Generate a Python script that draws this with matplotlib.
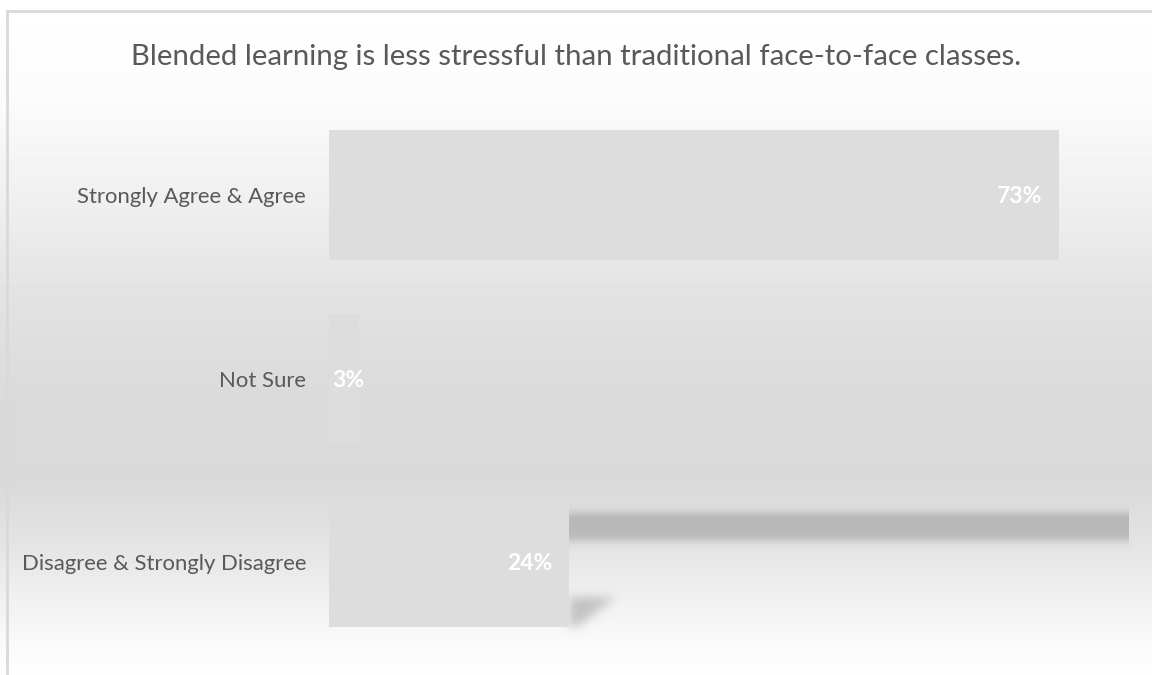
import numpy as np
import matplotlib
matplotlib.use("Agg")
import matplotlib.pyplot as plt
from matplotlib.patches import Rectangle

categories = ["Strongly Agree & Agree", "Not Sure", "Disagree & Strongly Disagree"]
shares = [0.73, 0.03, 0.24]
value_labels = ["73%", "3%", "24%"]
title = "Blended learning is less stressful than traditional face-to-face classes."

W, H, DPI = 1152, 675, 100
plt.rcParams['font.family'] = ['Lato', 'DejaVu Sans']

fig = plt.figure(figsize=(W / DPI, H / DPI), dpi=DPI)
fig.patch.set_facecolor('white')

# plot area
ax = fig.add_axes([329 / W, (H - 654) / H, 800 / W, 550.5 / H], zorder=1)
ax.set_facecolor('none')
ax.set_xlim(0, 0.8)
ax.set_ylim(2.5, -0.5)
bar_h = 0.708


def gauss_blur(a, sigma, axis):
    r = int(3 * sigma)
    k = np.exp(-0.5 * (np.arange(-r, r + 1) / sigma) ** 2)
    k /= k.sum()
    return np.apply_along_axis(lambda v: np.convolve(v, k, mode='same'), axis, a)


def to_px(x, y):
    dx, dy = ax.transData.transform((x, y))
    return dx, H - dy


# vertical gradient fill behind everything
rows = np.arange(H)
stops_y = [0, 100, 200, 300, 400, 480, 550, 600, 650, 675]
stops_v = [255, 251, 239, 226, 218, 217, 229, 241, 251, 254]
shade = np.interp(rows, stops_y, stops_v) / 255.0
bg = np.repeat(shade[:, None], W, axis=1)

# soft shadow band across the plot area, just below the top of the last bar
last = len(shares) - 1
x0, top3 = to_px(0, last - bar_h / 2)
x1, _ = to_px(ax.get_xlim()[1], last)
band_c = top3 + 29
d = np.abs(rows - band_c)
band = np.where(d < 7, 1.0, np.exp(-0.5 * ((d - 7) / 6.0) ** 2))
band_mask = np.zeros((H, W))
band_mask[:, int(x0):int(x1)] = band[:, None]

# slanted drop shadow at the end of the last bar
xe, bot3 = to_px(shares[last], last + bar_h / 2)
drop = np.zeros((H, W))
for r in range(int(bot3 - 30), int(bot3)):
    t = (bot3 - r) / 30.0
    drop[r, int(xe):int(xe + 8 + 38 * t)] = 1.0
drop = gauss_blur(gauss_blur(drop, 5, 0), 5, 1)

bg = bg * (1 - 0.18 * band_mask) * (1 - 0.2 * drop)

bg_ax = fig.add_axes([0, 0, 1, 1], zorder=0)
bg_ax.imshow(bg, cmap='gray', vmin=0, vmax=1, aspect='auto', interpolation='nearest')
bg_ax.axis('off')

# chart border
fig.patches.append(Rectangle((7 / W, -0.1), 1.2, (H - 11) / H + 0.1, transform=fig.transFigure,
                             fill=False, edgecolor='#d9d9d9', linewidth=2, zorder=2))

ypos = np.arange(len(categories))
ax.barh(ypos, shares, height=bar_h, color='#dddddd', zorder=2)

for i, v in enumerate(shares):
    bx0, _ = to_px(0, i)
    bx1, _ = to_px(v, i)
    if bx1 - bx0 > 60:
        ax.annotate(value_labels[i], (v, i), xytext=(-12.2, -1), textcoords='offset points',
                    ha='right', va='center', color='white', fontsize=16.5, fontweight='bold', zorder=3)
    else:
        ax.annotate(value_labels[i], (0, i), xytext=(2, -1), textcoords='offset points',
                    ha='left', va='center', color='white', fontsize=16.5, fontweight='bold', zorder=3)

ax.set_yticks(ypos, categories)
ax.set_xticks([])
ax.tick_params(axis='y', length=0, pad=16.5, labelsize=15.9, labelcolor='#595959')
for s in ax.spines.values():
    s.set_visible(False)

fig.text(0.5, (H - 57) / H, title, ha='center', va='center', fontsize=21.2, color='#595959')

fig.savefig('out.png', dpi=DPI)
